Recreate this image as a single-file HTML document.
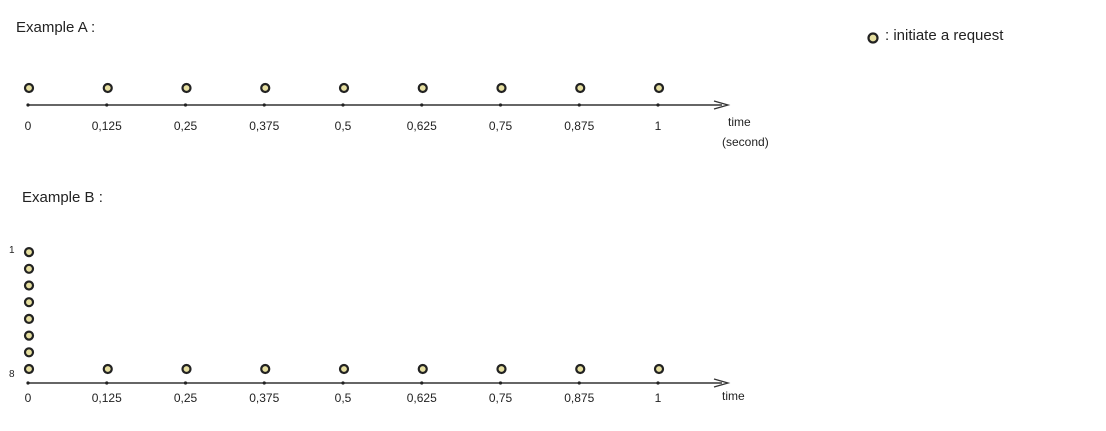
<!DOCTYPE html>
<html><head><meta charset="utf-8"><style>
body{margin:0;background:#fff;width:1106px;height:426px;overflow:hidden}
text{font-family:"Liberation Sans",sans-serif;fill:#222}
</style></head><body>
<svg id="s" width="1106" height="426">
<text x="16" y="32" font-size="15">Example  A :</text>
<text x="22" y="202" font-size="15">Example  B :</text>
<g>
<circle cx="873" cy="38" r="4.5" fill="#e6dfa0" stroke="#222" stroke-width="2.2"/>
<text x="885" y="40" font-size="15">: initiate  a  request</text>
</g>
<text x="728" y="126" font-size="12">time</text>
<text x="722" y="146" font-size="12">(second)</text>
<text x="722" y="400" font-size="12">time</text>
<text x="9" y="253" font-size="10">1</text>
<text x="9" y="377" font-size="10">8</text>
</svg>
<script>
const times=[0,0.125,0.25,0.375,0.5,0.625,0.75,0.875,1];
const labelsA=["0","0,125","0,25","0,375","0,5","0,625","0,75","0,875","1"];
const countsA=[1,1,1,1,1,1,1,1,1];
const countsB=[8,1,1,1,1,1,1,1,1];
const NS="http://www.w3.org/2000/svg",svg=document.getElementById('s');
const xs=t=>28+t*630;
function mk(tag,at){const e=document.createElementNS(NS,tag);for(const k in at)e.setAttribute(k,at[k]);svg.appendChild(e);return e;}
function axis(y,counts,name,labY,stackGap,off){
 const l=mk('line',{x1:28,y1:y,x2:722,y2:y,stroke:'#333','stroke-width':1.5});
 
 
 const a=mk('path',{d:`M714 ${y-4} L728 ${y} L714 ${y+4}`,fill:'none',stroke:'#333','stroke-width':1.3});
 
 
 times.forEach((t,i)=>{
  const x=xs(t);
  const tk=mk('circle',{cx:x,cy:y,r:1.6,fill:'#222'});
  
  
  const tx=mk('text',{x:x,y:labY,'font-size':12,'text-anchor':'middle'});
  tx.textContent=labelsA[i];
  
  
  for(let k=0;k<counts[i];k++){
   const c=mk('circle',{cx:x+1,cy:y-off-k*stackGap,r:4,fill:'#e6dfa0',stroke:'#222','stroke-width':2.2});
   
   
  }
 });
}
axis(105,countsA,'example-a',130,17,17);
axis(383,countsB,'example-b',402,16.7,14);
</script>
</body></html>
